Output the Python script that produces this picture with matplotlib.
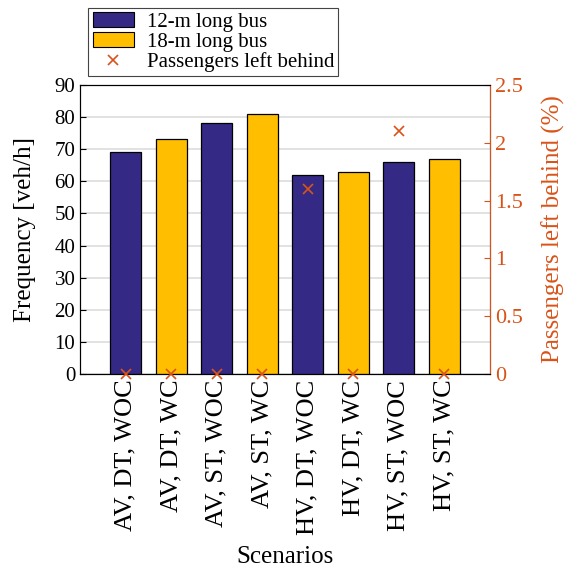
import matplotlib.pyplot as plt
import numpy as np

plt.rcParams["font.family"] = ["Liberation Serif", "DejaVu Serif"]
plt.rcParams["font.size"] = 15

scenarios = ["AV, DT, WOC", "AV, DT, WC", "AV, ST, WOC", "AV, ST, WC",
             "HV, DT, WOC", "HV, DT, WC", "HV, ST, WOC", "HV, ST, WC"]
frequency = [69, 73, 78, 81, 62, 63, 66, 67]
bus_type = ["12", "18", "12", "18", "12", "18", "12", "18"]
left_behind = [0, 0, 0, 0, 1.6, 0, 2.1, 0]

blue = "#342a85"
yellow = "#ffbf00"
orange = "#d95319"

x = np.arange(1, len(scenarios) + 1)
colors = [blue if b == "12" else yellow for b in bus_type]

fig = plt.figure(figsize=(5.65, 5.73), dpi=100)
ax = fig.add_axes([0.142, 0.347, 0.725, 0.505])

ax.bar(x, frequency, width=0.68, color=colors, edgecolor="black", linewidth=0.9, zorder=3)
ax.set_xlim(0, 9)
ax.set_ylim(0, 90)
ax.set_yticks(np.arange(0, 91, 10))
ax.set_xticks(x)
ax.set_xticklabels(scenarios, rotation=90, fontsize=19)
ax.yaxis.grid(True, color="#dddddd", linewidth=1.2, zorder=0)
ax.set_axisbelow(True)
ax.tick_params(direction="in", length=4, top=False)
ax.tick_params(axis="x", length=0, pad=4)
ax.set_ylabel("Frequency [veh/h]", fontsize=18, labelpad=13)
ax.set_xlabel("Scenarios", fontsize=18, labelpad=8)

ax2 = ax.twinx()
ax2.plot(x, left_behind, "x", color=orange, markersize=7, mew=1.2, clip_on=False, zorder=5)
ax2.set_ylim(0, 2.5)
ax2.set_yticks([0, 0.5, 1, 1.5, 2, 2.5])
ax2.set_yticklabels(["0", "0.5", "1", "1.5", "2", "2.5"], fontsize=16)
ax2.tick_params(direction="in", length=4, colors=orange)
ax2.spines["right"].set_color(orange)
ax2.set_ylabel("Passengers left behind (%)", color=orange, fontsize=18, labelpad=14)

handles = [
    plt.Rectangle((0, 0), 1, 1, facecolor=blue, edgecolor="black", linewidth=0.8),
    plt.Rectangle((0, 0), 1, 1, facecolor=yellow, edgecolor="black", linewidth=0.8),
    plt.Line2D([], [], marker="x", color=orange, linestyle="none", markersize=7, mew=1.2),
]
leg = ax.legend(handles, ["12-m long bus", "18-m long bus", "Passengers left behind"],
                loc="upper left", bbox_to_anchor=(0.02, 1.265), fancybox=False,
                edgecolor="#444444", framealpha=1, borderpad=0.2, labelspacing=0.02,
                handlelength=2.0, handletextpad=0.6, borderaxespad=0)
leg.get_frame().set_linewidth(0.8)

fig.savefig("out.png", dpi=100)
